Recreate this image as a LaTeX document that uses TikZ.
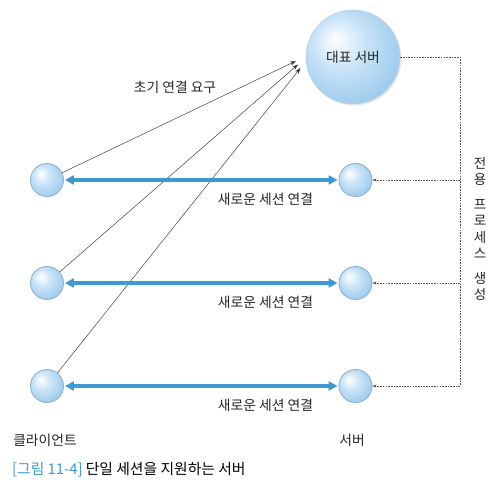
\documentclass[tikz,border=0pt]{standalone}
\usepackage{fontspec}
\setmainfont{Noto Sans CJK KR}
\usetikzlibrary{arrows.meta,shadows}
\definecolor{ballout}{HTML}{98C8EC}
\definecolor{ballmid}{HTML}{C9E3F7}
\definecolor{ballrim}{HTML}{8FB3D3}
\definecolor{linkblue}{HTML}{3D9AD1}
\definecolor{capblue}{HTML}{3C9BD6}
\definecolor{dotgray}{HTML}{555555}
\pgfdeclareradialshading{myball}{\pgfpoint{-10bp}{10bp}}{color(0bp)=(white); color(14bp)=(ballmid); color(32bp)=(ballout); color(50bp)=(ballout)}
\tikzset{
  ball/.style={circle, draw=ballrim, line width=0.9pt, shading=myball, minimum size=33pt, inner sep=0pt},
  bigball/.style={ball, minimum size=94pt, line width=0.6pt, draw=ballrim!60, drop shadow={opacity=0.18, shadow xshift=1.5pt, shadow yshift=-1.5pt}},
  req/.style={-{Stealth[length=6pt,width=4pt]}, line width=0.45pt, draw=black!80},
  link/.style={{Triangle[length=9pt,width=9pt]}-{Triangle[length=9pt,width=9pt]}, line width=3.2pt, draw=linkblue, shorten <=1pt, shorten >=1pt},
  spawn/.style={dash pattern=on 1.6pt off 1.1pt, line width=0.55pt, draw=dotgray},
  spawnarr/.style={spawn, -{Stealth[length=4pt,width=3pt]}},
  lbl/.style={font=\fontsize{13.8}{16}\selectfont, inner sep=0pt, text=black!85},
}
\begin{document}
\begin{tikzpicture}[x=1pt,y=-1pt]
\useasboundingbox (0,0) rectangle (496,493);
\fill[white] (0,0) rectangle (496,493);

\node[bigball] (big) at (353,57) {};
\node[lbl] (bigtxt) at (big.center) {대표 서버};

\node[ball] (c1) at (47,180) {};
\node[ball] (c2) at (47,283) {};
\node[ball] (c3) at (47,386) {};
\node[ball] (s1) at (355.5,180) {};
\node[ball] (s2) at (355.5,283) {};
\node[ball] (s3) at (355.5,386) {};

\coordinate (t1) at (296,61);
\coordinate (t2) at (298,64.5);
\coordinate (t3) at (300.5,68);
\draw[req] (c1) -- (t1);
\draw[req] (c2) -- (t2);
\draw[req] (c3) -- (t3);
\node[lbl] (init) at (175,87) {초기 연결 요구};

\draw[link] (c1) -- (s1);
\draw[link] (c2) -- (s2);
\draw[link] (c3) -- (s3);
\node[lbl] (l1) at (265.5,199) {새로운 세션 연결};
\node[lbl] (l2) at (265.5,302) {새로운 세션 연결};
\node[lbl] (l3) at (265.5,405) {새로운 세션 연결};

\coordinate (ctop) at (460,57);
\coordinate (cb1) at (460,180);
\coordinate (cb2) at (460,283);
\coordinate (cb3) at (460,386);
\draw[spawn] (big.east) -- (ctop) -- (cb3);
\draw[spawnarr] (cb1) -- (s1);
\draw[spawnarr] (cb2) -- (s2);
\draw[spawnarr] (cb3) -- (s3);
\node[lbl, align=center, font=\fontsize{13.5}{16.5}\selectfont] (vert) at (480,229) {전\\용\\[8pt]프\\로\\세\\스\\[8pt]생\\성};

\node[lbl] (cl) at (45,440) {클라이언트};
\node[lbl] (sv) at (352,440) {서버};

\node[anchor=west, inner sep=0pt, font=\fontsize{14.8}{17}\selectfont] (cap) at (12,470) {\textcolor{capblue}{[그림 11-4]} 단일 세션을 지원하는 서버};
\end{tikzpicture}
\end{document}
